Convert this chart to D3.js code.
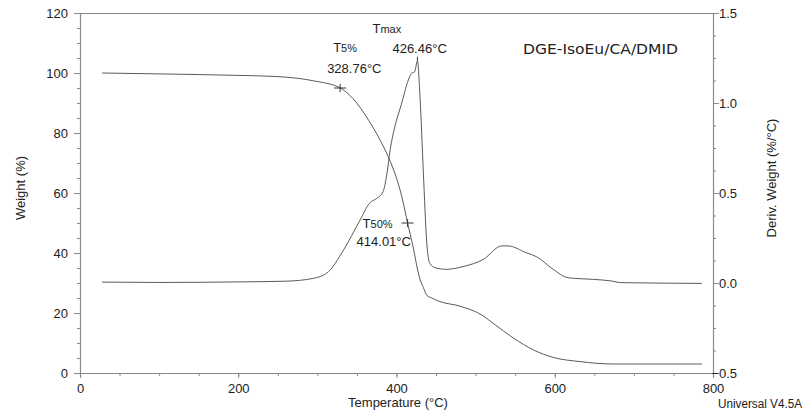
<!DOCTYPE html>
<html>
<head>
<meta charset="utf-8">
<script src="https://cdn.jsdelivr.net/npm/d3@7"></script>
<style>
  html, body { margin: 0; padding: 0; background: #fff; }
  svg { display: block; font-family: "Liberation Sans", Arial, sans-serif; }
  text { fill: #222; }
</style>
</head>
<body>
<svg id="chart" width="803" height="418"></svg>
<script>
// ---- Data ----
// Weight (%) vs Temperature (°C)
const weightTemp = [28, 100, 200, 250, 295, 329, 340, 350, 360, 370, 380, 390, 400, 407, 414, 421, 427, 430, 434, 438, 446, 455, 480, 508, 522, 548, 573, 598, 632, 674, 786];
const weightVal  = [100.0, 99.7, 99.2, 98.8, 97.4, 95.0, 92.8, 89.9, 86.2, 82.0, 77.3, 71.8, 65.0, 58.5, 50.0, 42.0, 34.0, 31.0, 28.5, 26.0, 24.8, 23.8, 22.3, 19.3, 16.6, 11.6, 7.7, 5.2, 3.8, 3.0, 3.0];
// Deriv. Weight (%/°C) vs Temperature (°C)
const derivTemp = [28, 100, 200, 260, 295, 314, 333, 354, 366, 375, 383, 388, 392, 398, 406, 415, 419, 423, 426.46, 429.7, 434, 438, 442, 449, 463, 484, 510, 533, 541, 564, 577, 598, 617, 649, 672, 683, 786];
const derivVal  = [0.005, 0.003, 0.006, 0.01, 0.026, 0.063, 0.183, 0.35, 0.444, 0.47, 0.507, 0.61, 0.74, 0.87, 0.99, 1.128, 1.165, 1.174, 1.235, 1.035, 0.609, 0.239, 0.11, 0.085, 0.076, 0.091, 0.132, 0.206, 0.206, 0.168, 0.146, 0.076, 0.029, 0.020, 0.011, 0.002, -0.002];
// Axis ticks
const xTicks = [0, 200, 400, 600, 800];
const yLeftTicks = [0, 20, 40, 60, 80, 100, 120];
const yRightTicks = [-0.5, 0.0, 0.5, 1.0, 1.5];
// Annotations
const t5 = { temp: 328.76, weight: 95, label: "328.76°C" };
const t50 = { temp: 414.01, weight: 50, label: "414.01°C" };
const tmax = { temp: 426.46, deriv: 1.235, label: "426.46°C" };
const sampleName = "DGE-IsoEu/CA/DMID";
const footer = "Universal V4.5A";

// ---- Layout ----
const svg = d3.select("#chart");
const L = 80, R = 713, T = 13, B = 373;
const x = d3.scaleLinear().domain([0, 800]).range([L, R]);
const yL = d3.scaleLinear().domain([0, 120]).range([B, T]);
const yR = d3.scaleLinear().domain([-0.5, 1.5]).range([B, T]);

const axisColor = "#8a8a8a";
const curveColor = "#5a5a5a";
const FONT = "'Liberation Sans', Arial, sans-serif";

// frame top line
svg.append("line").attr("x1", L).attr("x2", R).attr("y1", T + 0.5).attr("y2", T + 0.5)
  .attr("stroke", axisColor).attr("stroke-width", 1);

function styleAxis(g) {
  g.selectAll("path.domain").attr("stroke", axisColor);
  g.selectAll("line").attr("stroke", axisColor);
  g.selectAll("text").attr("font-size", 13).attr("fill", "#222").style("font-family", FONT);
}

// minor + major ticks
const gx = svg.append("g").attr("transform", `translate(0,${B})`);
gx.call(d3.axisBottom(x).tickValues(d3.range(0, 801, 50)).tickSize(3).tickFormat(""));
gx.call(g => g.select(".domain").remove());
const gxM = svg.append("g").attr("transform", `translate(0,${B})`);
gxM.call(d3.axisBottom(x).tickValues(xTicks).tickSize(5).tickPadding(6).tickFormat(d3.format("d")));
styleAxis(gx); styleAxis(gxM);

const gl = svg.append("g").attr("transform", `translate(${L},0)`);
gl.call(d3.axisLeft(yL).tickValues(d3.range(0, 121, 5)).tickSize(3).tickFormat(""));
gl.call(g => g.select(".domain").remove());
const glM = svg.append("g").attr("transform", `translate(${L},0)`);
glM.call(d3.axisLeft(yL).tickValues(yLeftTicks).tickSize(6).tickPadding(6).tickFormat(d3.format("d")));
styleAxis(gl); styleAxis(glM);

const gr = svg.append("g").attr("transform", `translate(${R},0)`);
gr.call(d3.axisRight(yR).tickValues(d3.range(0, 17).map(i => -0.5 + i * 0.125)).tickSize(3).tickFormat(""));
gr.call(g => g.select(".domain").remove());
const grM = svg.append("g").attr("transform", `translate(${R},0)`);
grM.call(d3.axisRight(yR).tickValues(yRightTicks).tickSize(6).tickPadding(7).tickFormat(d3.format(".1f")));
styleAxis(gr); styleAxis(grM);
grM.selectAll("text").attr("text-anchor", "end").attr("x", 24);
svg.selectAll(".domain").attr("stroke-width", 1.2);

// axis titles
svg.append("text").attr("x", 398).attr("y", 407).attr("text-anchor", "middle")
  .attr("font-size", 13).text("Temperature (°C)");
svg.append("text").attr("transform", "translate(25,188) rotate(-90)").attr("text-anchor", "middle")
  .attr("font-size", 13).text("Weight (%)");
svg.append("text").attr("transform", "translate(776,178) rotate(-90)").attr("text-anchor", "middle")
  .attr("font-size", 13).text("Deriv. Weight (%/°C)");
svg.append("text").attr("x", 718).attr("y", 408).attr("font-size", 12)
  .attr("textLength", 84).attr("lengthAdjust", "spacingAndGlyphs").text(footer);

// ---- Curves ----
const weightData = weightTemp.map((t, i) => [t, weightVal[i]]);
const derivData = derivTemp.map((t, i) => [t, derivVal[i]]);

const lineW = d3.line().x(d => x(d[0])).y(d => yL(d[1])).curve(d3.curveMonotoneX);
const lineD = d3.line().x(d => x(d[0])).y(d => yR(d[1])).curve(d3.curveMonotoneX);

svg.append("path").datum(weightData).attr("d", lineW)
  .attr("fill", "none").attr("stroke", curveColor).attr("stroke-width", 1);
svg.append("path").datum(derivData).attr("d", lineD)
  .attr("fill", "none").attr("stroke", curveColor).attr("stroke-width", 1);

// ---- Annotations ----
function cross(cx, cy) {
  svg.append("line").attr("x1", cx - 6).attr("x2", cx + 6).attr("y1", cy).attr("y2", cy)
    .attr("stroke", "#333").attr("stroke-width", 1);
  svg.append("line").attr("x1", cx).attr("x2", cx).attr("y1", cy - 4).attr("y2", cy + 4)
    .attr("stroke", "#333").attr("stroke-width", 1);
}
cross(x(t5.temp), yL(t5.weight));
cross(x(t50.temp), yL(t50.weight));

// Tmax marker tick
svg.append("line").attr("x1", x(tmax.temp)).attr("x2", x(tmax.temp))
  .attr("y1", yR(tmax.deriv) - 4).attr("y2", yR(tmax.deriv))
  .attr("stroke", "#333").attr("stroke-width", 1);

function subLabel(xp, yp, main, sub) {
  const t = svg.append("text").attr("x", xp).attr("y", yp).attr("font-size", 13);
  t.append("tspan").text(main);
  t.append("tspan").attr("font-size", 11).text(sub);
}
subLabel(x(t5.temp) - 7, 52, "T", "5%");
svg.append("text").attr("x", x(t5.temp) - 13).attr("y", 73).attr("font-size", 13).text(t5.label);

subLabel(x(tmax.temp) - 45, 33, "T", "max");
svg.append("text").attr("x", x(tmax.temp) - 25).attr("y", 53).attr("font-size", 13).text(tmax.label);

subLabel(x(t50.temp) - 45, 228, "T", "50%");
svg.append("text").attr("x", x(t50.temp) - 51).attr("y", 246).attr("font-size", 13).text(t50.label);

svg.append("text").attr("x", 523).attr("y", 54).attr("font-size", 13.5)
  .attr("textLength", 155).attr("lengthAdjust", "spacingAndGlyphs")
  .style("font-family", "'DejaVu Sans', Verdana, sans-serif").text(sampleName);
</script>
</body>
</html>
